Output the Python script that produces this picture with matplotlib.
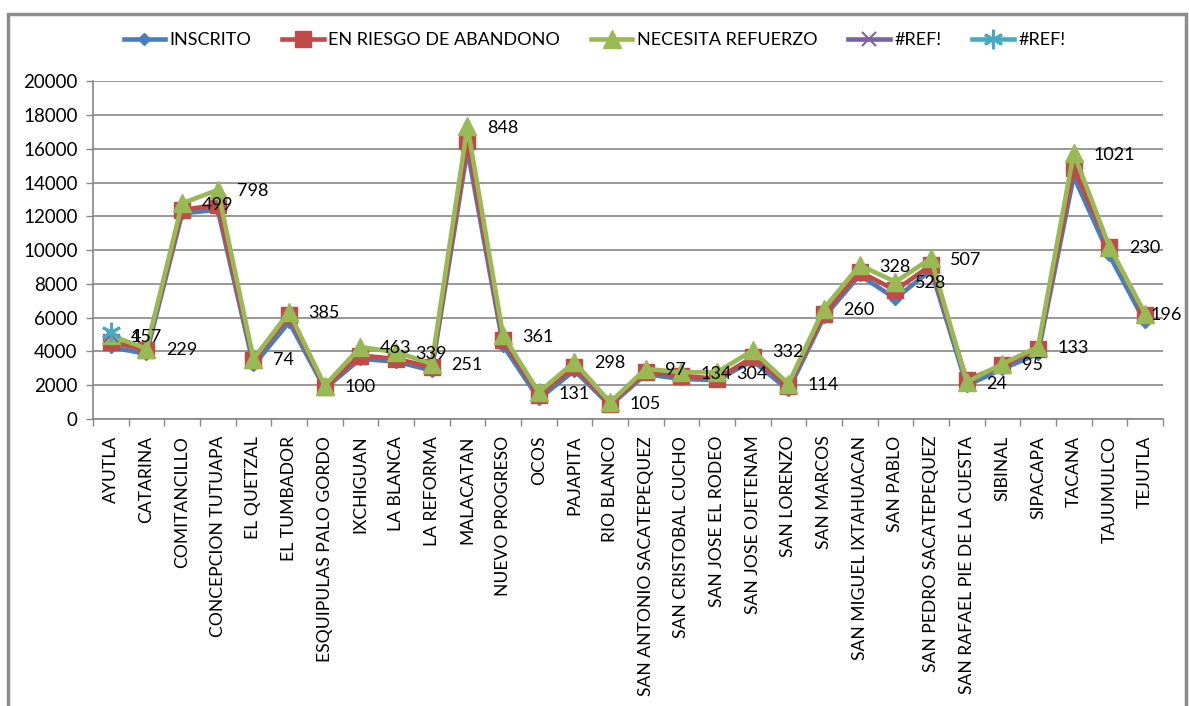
import numpy as np
import matplotlib.pyplot as plt
from matplotlib.patches import Rectangle

municipios = [
    "AYUTLA", "CATARINA", "COMITANCILLO", "CONCEPCION TUTUAPA", "EL QUETZAL",
    "EL TUMBADOR", "ESQUIPULAS PALO GORDO", "IXCHIGUAN", "LA BLANCA", "LA REFORMA",
    "MALACATAN", "NUEVO PROGRESO", "OCOS", "PAJAPITA", "RIO BLANCO",
    "SAN ANTONIO SACATEPEQUEZ", "SAN CRISTOBAL CUCHO", "SAN JOSE EL RODEO",
    "SAN JOSE OJETENAM", "SAN LORENZO", "SAN MARCOS", "SAN MIGUEL IXTAHUACAN",
    "SAN PABLO", "SAN PEDRO SACATEPEQUEZ", "SAN RAFAEL PIE DE LA CUESTA",
    "SIBINAL", "SIPACAPA", "TACANA", "TAJUMULCO", "TEJUTLA",
]

inscrito = [4250, 3860, 12180, 12380, 3170, 5740, 1800, 3560, 3400, 2870,
            15940, 4350, 1190, 2870, 800, 2650, 2370, 2300, 3460, 1700,
            6050, 8520, 7130, 8820, 1980, 2970, 3860, 14360, 9700, 5740]
en_riesgo = [4550, 4100, 12380, 12670, 3470, 6140, 1900, 3760, 3560, 3070,
             16430, 4650, 1450, 3070, 900, 2770, 2570, 2380, 3660, 1950,
             6240, 8720, 7620, 9110, 2300, 3170, 4160, 14850, 10200, 6140]
necesita = [4950, 4160, 12770, 13560, 3560, 6330, 1980, 4260, 3960, 3270,
            17330, 4950, 1580, 3370, 990, 2970, 2770, 2770, 4060, 2080,
            6540, 9110, 8120, 9510, 2180, 3270, 4260, 15740, 10200, 6240]
ref_1 = [5000] + [np.nan] * 29
ref_2 = [5150] + [np.nan] * 29

etiquetas = [157, 229, 499, 798, 74, 385, 100, 463, 339, 251,
             848, 361, 131, 298, 105, 97, 134, 304, 332, 114,
             260, 328, 528, 507, 24, 95, 133, 1021, 230, 196]
etiqueta_ref = ["4"] + [""] * 29

plt.rcParams["font.family"] = ["Lato", "DejaVu Sans"]

fig = plt.figure(figsize=(11.89, 7.06), dpi=100)
ax = fig.add_axes([0.0782, 0.4065, 0.8998, 0.4785])

x = np.arange(len(municipios))

ax.plot(x, inscrito, color="#4A7EBB", lw=3.3, marker="D", ms=6, label="INSCRITO", zorder=3)
ax.plot(x, en_riesgo, color="#BE4B48", lw=3.3, marker="s", ms=11, label="EN RIESGO DE ABANDONO", zorder=4)
ax.plot(x, necesita, color="#98B954", lw=3.3, marker="^", ms=12.5, label="NECESITA REFUERZO", zorder=5)
ax.plot(x, ref_1, color="#7D60A0", lw=3.3, marker="x", ms=10, mew=1.5, label="#REF!", zorder=6)
ax.plot(x, ref_2, color="#46AAC5", lw=3.3, marker=(6, 2, 0), ms=14, mew=2, label="#REF!", zorder=7)

# etiquetas a la derecha de los puntos verdes
for i, v in enumerate(etiquetas):
    dx = 4 if i == len(etiquetas) - 1 else 14
    ax.annotate(str(v), (x[i], necesita[i]), xytext=(dx, -1), textcoords="offset points",
                ha="left", va="center", fontsize=13, zorder=8, annotation_clip=False)
for i, t in enumerate(etiqueta_ref):
    if t:
        ax.annotate(t, (x[i], necesita[i]), xytext=(14, -1), textcoords="offset points",
                    ha="left", va="center", fontsize=13, zorder=8)

ax.set_xlim(-0.5, len(municipios) - 0.5)
ax.set_ylim(0, 20000)
ax.set_yticks(np.arange(0, 20001, 2000))
ax.set_xticks(x)
ax.set_xticklabels(municipios, rotation=90, fontsize=12.6)
ax.set_xticks(np.arange(-0.5, len(municipios), 1), minor=True)
ax.tick_params(axis="x", which="major", length=0, pad=12)
ax.tick_params(axis="x", which="minor", length=5, color="#868686", width=1)
ax.tick_params(axis="y", length=5, color="#868686", width=1, labelsize=13.5, pad=6)

ax.grid(axis="y", color="#868686", lw=1.2)
ax.set_axisbelow(True)
for s in ["top", "right"]:
    ax.spines[s].set_visible(False)
for s in ["left", "bottom"]:
    ax.spines[s].set_color("#868686")
    ax.spines[s].set_linewidth(1.2)

fig.legend(loc="center", bbox_to_anchor=(0.5, 0.943), ncol=5, frameon=False,
           fontsize=13, handlelength=2.3, columnspacing=1.7, handletextpad=0.25)

fig.patches.append(Rectangle((8 / 1189, -0.02), 1178 / 1189, 1.01 - 7 / 706,
                             transform=fig.transFigure, fill=False,
                             edgecolor="#8C8C8C", lw=2.5))

fig.savefig("out.png", dpi=100)
